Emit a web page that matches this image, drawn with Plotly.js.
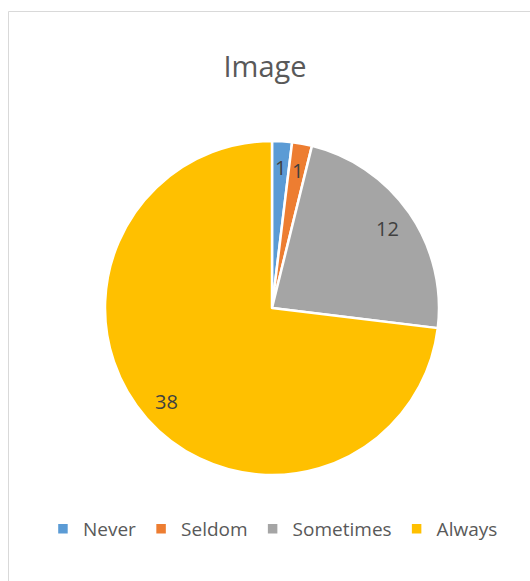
<!DOCTYPE html>
<html>
<head>
<meta charset="utf-8">
<script src="https://cdn.plot.ly/plotly-3.0.1.min.js"></script>
<style>html,body{margin:0;padding:0;background:#fff;}#chart{width:530px;height:581px;}</style>
</head>
<body>
<div id="chart"></div>
<script>
const categories = ["Never", "Seldom", "Sometimes", "Always"];
const counts = [1, 1, 12, 38];
const sliceColors = ["#5B9BD5", "#ED7D31", "#A5A5A5", "#FFC000"];
const chartTitle = "Image";

const W = 530, H = 581;
const cx = 272, cy = 308, R = 167;
const labelRadius = 0.84;

const trace = {
  type: "pie",
  labels: categories,
  values: counts,
  sort: false,
  direction: "clockwise",
  rotation: 0,
  marker: { colors: sliceColors, line: { color: "#FFFFFF", width: 2.5 } },
  textinfo: "none",
  domain: { x: [(cx - R) / W, (cx + R) / W], y: [1 - (cy + R) / H, 1 - (cy - R) / H] },
  hoverinfo: "label+value"
};

// value labels placed along each slice's bisector (angles derived from the data)
const total = counts.reduce((a, b) => a + b, 0);
let cum = 0;
const annotations = counts.map((v) => {
  const mid = (cum + v / 2) / total * 2 * Math.PI;
  cum += v;
  const px = cx + labelRadius * R * Math.sin(mid);
  const py = cy - labelRadius * R * Math.cos(mid);
  return { xref: "paper", yref: "paper", x: px / W, y: 1 - py / H, xanchor: "center", yanchor: "middle",
           text: String(v), showarrow: false,
           font: { family: "Open Sans, sans-serif", size: 20, color: "#404040" } };
});

const layout = {
  width: W, height: H,
  margin: { l: 0, r: 0, t: 0, b: 0 },
  paper_bgcolor: "#FFFFFF",
  title: { text: chartTitle, x: 0.5, xanchor: "center", y: 1 - 67 / H, yanchor: "middle",
           font: { family: "Open Sans, sans-serif", size: 29, color: "#595959" } },
  showlegend: true,
  legend: { orientation: "h", x: 0.515, xanchor: "center", y: 1 - 529 / H, yanchor: "middle",
            font: { family: "Open Sans, sans-serif", size: 19, color: "#595959" }, traceorder: "normal" },
  annotations: annotations,
  shapes: [{ type: "rect", xref: "paper", yref: "paper", x0: 8.5 / W, x1: 1.2, y0: -0.2, y1: 1 - 11.5 / H,
             line: { color: "#D9D9D9", width: 1 }, fillcolor: "rgba(0,0,0,0)" }]
};

Plotly.newPlot("chart", [trace], layout, { displayModeBar: false, staticPlot: true });
</script>
</body>
</html>
